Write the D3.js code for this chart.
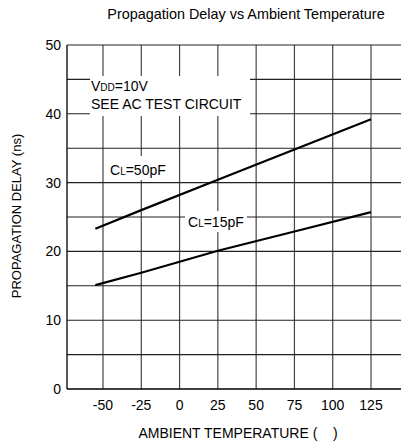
<!DOCTYPE html>
<html><head><meta charset="utf-8">
<script src="https://cdn.jsdelivr.net/npm/d3@7"></script>
<style>html,body{margin:0;padding:0;background:#fff}svg{display:block}text{font-family:"Liberation Sans",Arial,sans-serif;fill:#000}</style>
</head><body><svg id="c" width="401" height="443"></svg>
<script>
const title = "Propagation Delay vs Ambient Temperature";
const xLabel = "AMBIENT TEMPERATURE (    )";
const yLabel = "PROPAGATION DELAY (ns)";
const xTicks = [-50, -25, 0, 25, 50, 75, 100, 125];
const yTicks = [0, 10, 20, 30, 40, 50];
const yGrid = [5, 10, 15, 20, 25, 30, 35, 40, 45, 50];
const xGrid = [-50, -25, 0, 25, 50, 75, 100, 125, 150];
const temps = [-55, -25, 25, 75, 125];
const delay50 = [23.3, 26.0, 30.4, 34.8, 39.2];
const delay15 = [15.1, 16.9, 20.1, 22.9, 25.7];

const svg = d3.select("#c");
const x = d3.scaleLinear().domain([-73.5, 150]).range([67, 409.3]);
const y = d3.scaleLinear().domain([0, 50]).range([389, 45]);

const g = svg.append("g");
g.selectAll(".vg").data(xGrid).join("line")
  .attr("x1", d => x(d)).attr("x2", d => x(d)).attr("y1", y(50)).attr("y2", y(0))
  .attr("stroke", "#444").attr("stroke-width", 1.2);
g.selectAll(".hg").data(yGrid).join("line")
  .attr("x1", x(-73.5)).attr("x2", 410).attr("y1", d => y(d)).attr("y2", d => y(d))
  .attr("stroke", "#222").attr("stroke-width", 1.1);
g.append("line").attr("x1", x(-73.5)).attr("x2", x(-73.5)).attr("y1", y(50)).attr("y2", y(0)).attr("stroke", "#000").attr("stroke-width", 1.3);
g.append("line").attr("x1", x(-73.5)).attr("x2", 410).attr("y1", y(0)).attr("y2", y(0)).attr("stroke", "#000").attr("stroke-width", 1.3);

const boxes = [[90, 76, 160, 40], [105, 156, 67, 24], [185, 211, 62, 21]];
g.selectAll(".bx").data(boxes).join("rect")
  .attr("x", d => d[0]).attr("y", d => d[1]).attr("width", d => d[2]).attr("height", d => d[3]).attr("fill", "#fff");

const line = d3.line().x(d => x(d[0])).y(d => y(d[1]));
[delay50, delay15].forEach(s => {
  g.append("path").datum(temps.map((t, i) => [t, s[i]])).attr("d", line)
    .attr("fill", "none").attr("stroke", "#000").attr("stroke-width", 2.2);
});

svg.selectAll(".xt").data(xTicks).join("text")
  .attr("x", d => x(d)).attr("y", 410).attr("text-anchor", "middle").attr("font-size", 14).text(d => d);
svg.selectAll(".yt").data(yTicks).join("text")
  .attr("x", 61).attr("y", d => y(d) + 5).attr("text-anchor", "end").attr("font-size", 14).text(d => d);

svg.append("text").attr("x", 246).attr("y", 19).attr("text-anchor", "middle").attr("font-size", 14.4).text(title);
svg.append("text").attr("x", 238).attr("y", 438).attr("text-anchor", "middle").attr("font-size", 14).style("white-space", "pre").text(xLabel);
svg.append("text").attr("transform", "translate(21," + (y(25) - 1) + ") rotate(-90)").attr("text-anchor", "middle").attr("font-size", 13).text(yLabel);

function sub(xp, yp, parts) {
  const t = svg.append("text").attr("x", xp).attr("y", yp).attr("font-size", 14);
  parts.forEach(p => t.append("tspan").attr("font-size", p[1] ? 10 : 14).text(p[0]));
}
sub(91, 91, [["V", 0], ["DD", 1], ["=10V", 0]]);
svg.append("text").attr("x", 91).attr("y", 109).attr("font-size", 14).text("SEE AC TEST CIRCUIT");
sub(110, 175, [["C", 0], ["L", 1], ["=50pF", 0]]);
sub(188, 227, [["C", 0], ["L", 1], ["=15pF", 0]]);
</script></body></html>
